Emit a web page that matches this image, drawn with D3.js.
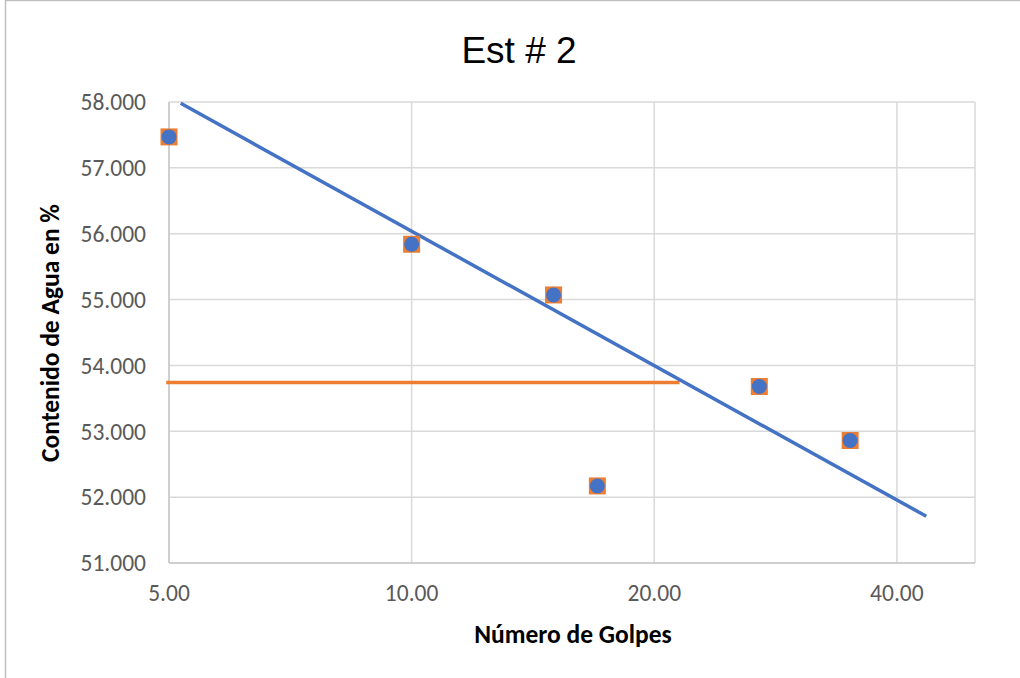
<!DOCTYPE html>
<html>
<head>
<meta charset="utf-8">
<script src="https://cdn.jsdelivr.net/npm/d3@7"></script>
<style>
  body { margin: 0; background: #fff; }
  svg { display: block; }
</style>
</head>
<body>
<svg id="chart"></svg>
<script>
// data
const golpes = [5, 10, 15, 17, 27, 35];
const contenido = [57.47, 55.84, 55.07, 52.17, 53.68, 52.86];
const trendGolpes = [5.17, 43.5];
const trendContenido = [57.98, 51.71];
const limiteGolpes = [4.96, 21.5];
const limiteContenido = [53.74, 53.74];
const xTicks = [5, 10, 20, 40];
const yTicks = [51, 52, 53, 54, 55, 56, 57, 58];

const width = 1020, height = 678;
const plot = {left: 169, right: 975, top: 102, bottom: 563};

const svg = d3.select('#chart')
    .attr('width', width)
    .attr('height', height);

// outer chart border (cut off at right and bottom)
svg.append('rect')
    .attr('x', 5.5)
    .attr('y', 0.5)
    .attr('width', 1100)
    .attr('height', 800)
    .attr('fill', 'none')
    .attr('stroke', '#bfbfbf')
    .attr('stroke-width', 1.5);

const x = d3.scaleLog().base(2)
    .domain([5, 50])
    .range([plot.left, plot.right]);
const y = d3.scaleLinear()
    .domain([51, 58])
    .range([plot.bottom, plot.top]);

const tickFont = 'Carlito, Lato, "Open Sans", sans-serif';

//gridlines
const grid = svg.append('g').attr('class', 'grid');
grid.selectAll('line.h')
    .data(yTicks)
    .enter()
    .append('line')
    .attr('class', 'h')
    .attr('x1', plot.left)
    .attr('x2', plot.right)
    .attr('y1', d => y(d))
    .attr('y2', d => y(d))
    .attr('stroke', '#d9d9d9')
    .attr('stroke-width', 1.5);
grid.selectAll('line.v')
    .data(xTicks.concat([50]))
    .enter()
    .append('line')
    .attr('class', 'v')
    .attr('x1', d => x(d))
    .attr('x2', d => x(d))
    .attr('y1', plot.top)
    .attr('y2', plot.bottom)
    .attr('stroke', '#d9d9d9')
    .attr('stroke-width', 1.5);

// axis lines
svg.append('line')
    .attr('x1', plot.left).attr('x2', plot.left)
    .attr('y1', plot.top).attr('y2', plot.bottom)
    .attr('stroke', '#c8c8c8')
    .attr('stroke-width', 1.5);
svg.append('line')
    .attr('x1', plot.left).attr('x2', plot.right)
    .attr('y1', plot.bottom).attr('y2', plot.bottom)
    .attr('stroke', '#c8c8c8')
    .attr('stroke-width', 1.5);

// tick labels
svg.append('g')
    .selectAll('text')
    .data(yTicks)
    .enter()
    .append('text')
    .attr('x', 146)
    .attr('y', d => y(d))
    .attr('dy', '0.35em')
    .attr('text-anchor', 'end')
    .attr('font-family', tickFont)
    .attr('font-size', 23.5)
    .attr('fill', '#595959')
    .text(d => d3.format('.3f')(d));

svg.append('g')
    .selectAll('text')
    .data(xTicks)
    .enter()
    .append('text')
    .attr('x', d => x(d))
    .attr('y', 601)
    .attr('text-anchor', 'middle')
    .attr('font-family', tickFont)
    .attr('font-size', 23.5)
    .attr('fill', '#595959')
    .text(d => d3.format('.2f')(d));

// reference line and trend line
const line = d3.line()
    .x(d => x(d[0]))
    .y(d => y(d[1]));

svg.append('path')
    .datum(d3.zip(limiteGolpes, limiteContenido))
    .attr('d', line)
    .attr('fill', 'none')
    .attr('stroke', '#ed7d31')
    .attr('stroke-width', 3.5);

svg.append('path')
    .datum(d3.zip(trendGolpes, trendContenido))
    .attr('d', line)
    .attr('fill', 'none')
    .attr('stroke', '#4472c4')
    .attr('stroke-width', 3.5);

// markers: orange squares under blue circles
const pts = d3.zip(golpes, contenido);
svg.append('g')
    .selectAll('rect')
    .data(pts)
    .enter()
    .append('rect')
    .attr('x', d => x(d[0]) - 8.5)
    .attr('y', d => y(d[1]) - 8.5)
    .attr('width', 17)
    .attr('height', 17)
    .attr('fill', '#ed7d31');
svg.append('g')
    .selectAll('circle')
    .data(pts)
    .enter()
    .append('circle')
    .attr('cx', d => x(d[0]))
    .attr('cy', d => y(d[1]))
    .attr('r', 7.5)
    .attr('fill', '#4472c4');

// titles
svg.append('text')
    .attr('x', 519)
    .attr('y', 63)
    .attr('text-anchor', 'middle')
    .attr('font-family', '"Liberation Sans", Arial, sans-serif')
    .attr('font-size', 37)
    .attr('fill', '#000')
    .text('Est # 2');

svg.append('text')
    .attr('x', 573)
    .attr('y', 643)
    .attr('text-anchor', 'middle')
    .attr('font-family', tickFont)
    .attr('font-weight', 'bold')
    .attr('font-size', 25.5)
    .attr('fill', '#000')
    .text('Número de Golpes');

svg.append('text')
    .attr('transform', 'translate(59,333) rotate(-90)')
    .attr('text-anchor', 'middle')
    .attr('font-family', tickFont)
    .attr('font-weight', 'bold')
    .attr('font-size', 25.5)
    .attr('fill', '#000')
    .text('Contenido de Agua en %');
</script>
</body>
</html>
